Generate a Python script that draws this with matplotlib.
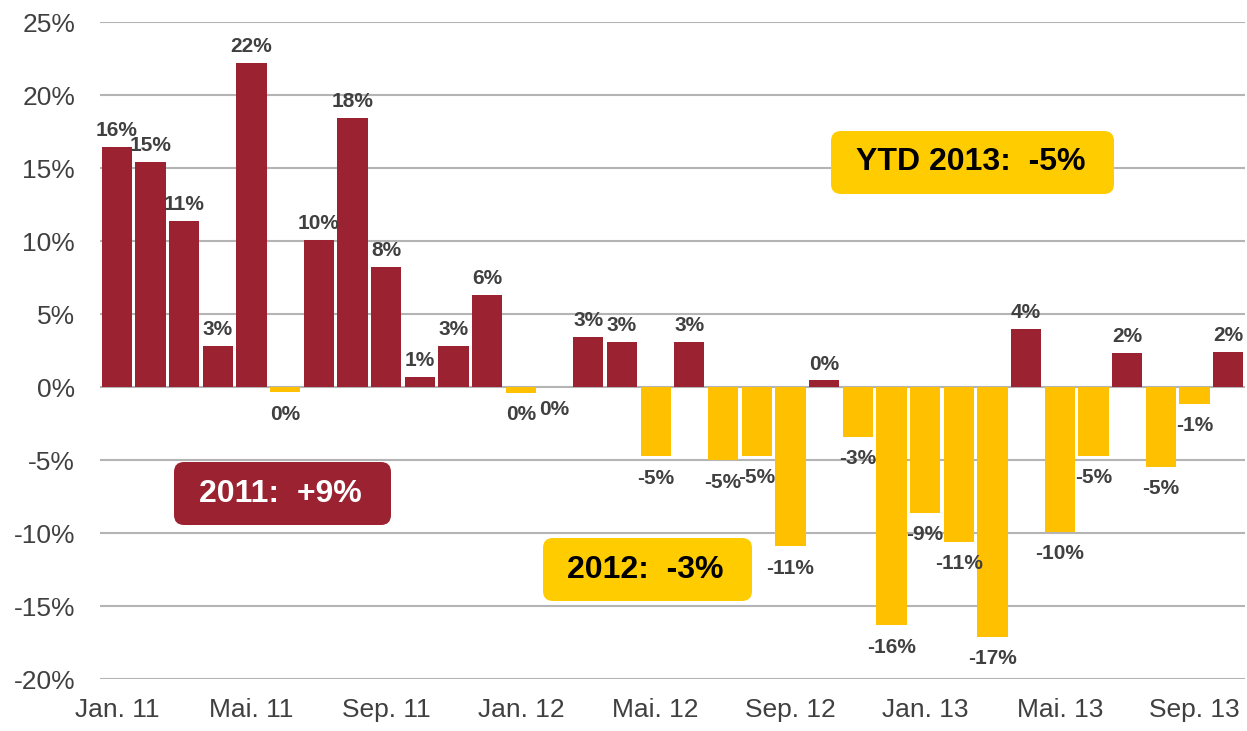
import numpy as np
import matplotlib.pyplot as plt
from matplotlib.patches import FancyBboxPatch

plt.rcParams['font.family'] = ['Liberation Sans', 'DejaVu Sans']

# monthly returns in %, Jan 2011 .. Oct 2013
months = ['Jan. 11', 'Feb. 11', 'Mrz. 11', 'Apr. 11', 'Mai. 11', 'Jun. 11',
          'Jul. 11', 'Aug. 11', 'Sep. 11', 'Okt. 11', 'Nov. 11', 'Dez. 11',
          'Jan. 12', 'Feb. 12', 'Mrz. 12', 'Apr. 12', 'Mai. 12', 'Jun. 12',
          'Jul. 12', 'Aug. 12', 'Sep. 12', 'Okt. 12', 'Nov. 12', 'Dez. 12',
          'Jan. 13', 'Feb. 13', 'Mrz. 13', 'Apr. 13', 'Mai. 13', 'Jun. 13',
          'Jul. 13', 'Aug. 13', 'Sep. 13', 'Okt. 13']
returns = [16.45, 15.4, 11.4, 2.8, 22.2, -0.35, 10.1, 18.4, 8.2, 0.7, 2.8, 6.3,
           -0.4, 0.0, 3.45, 3.1, -4.75, 3.1, -5.0, -4.7, -10.9, 0.45, -3.4, -16.3,
           -8.6, -10.6, -17.1, 4.0, -9.9, -4.7, 2.3, -5.45, -1.15, 2.4]

# yearly summary boxes
summary_text = ['2011:  +9%', '2012:  -3%', 'YTD 2013:  -5%']

red = '#9b2230'
yellow = '#ffc000'
txt = '#404040'

fig = plt.figure(figsize=(12.47, 7.31), dpi=100)
ax = fig.add_axes([0.0802, 0.0711, 0.9182, 0.8988])

x = np.arange(len(returns))
cols = [red if v >= 0 else yellow for v in returns]
ax.bar(x, returns, width=0.9, color=cols, zorder=2)

for xi, v in zip(x, returns):
    lab = f"{int(round(v))}%"
    if v > 0:
        ax.annotate(lab, (xi, v), xytext=(0, 5), textcoords='offset points',
                    ha='center', va='bottom', fontsize=15, fontweight='bold', color=txt)
    else:
        ax.annotate(lab, (xi, v), xytext=(0, -9), textcoords='offset points',
                    ha='center', va='top', fontsize=15, fontweight='bold', color=txt)

ax.set_xlim(-0.5, len(returns) - 0.5)
ax.set_ylim(-20, 25)
ax.set_yticks(np.arange(-20, 26, 5))
ax.set_yticklabels([f"{t}%" for t in range(-20, 26, 5)])
ax.set_xticks(x[::4])
ax.set_xticklabels(months[::4])
ax.tick_params(axis='both', length=0, labelsize=19, labelcolor=txt)
ax.tick_params(axis='y', pad=18)
ax.tick_params(axis='x', pad=14)
ax.yaxis.grid(True, color='#b4b4b4', linewidth=1.5, zorder=0)
ax.set_axisbelow(True)
for s in ax.spines.values():
    s.set_visible(False)

# summary boxes (positions in inches)
boxes = [(1.74, 2.06, 2.17, 0.63, red, 'white'),
         (5.43, 1.30, 2.09, 0.63, '#ffcc00', 'black'),
         (8.31, 5.37, 2.83, 0.63, '#ffcc00', 'black')]
for (bx, by, bw, bh, fc, tc), s in zip(boxes, summary_text):
    p = FancyBboxPatch((bx, by), bw, bh, boxstyle='round,pad=0,rounding_size=0.1',
                       transform=fig.dpi_scale_trans, facecolor=fc, edgecolor='none',
                       zorder=5)
    fig.patches.append(p)
    fig.text(bx + bw / 2 - 0.02, by + bh / 2, s, transform=fig.dpi_scale_trans,
             ha='center', va='center', fontsize=23, fontweight='bold', color=tc, zorder=6)

fig.savefig('out.png', dpi=100)
